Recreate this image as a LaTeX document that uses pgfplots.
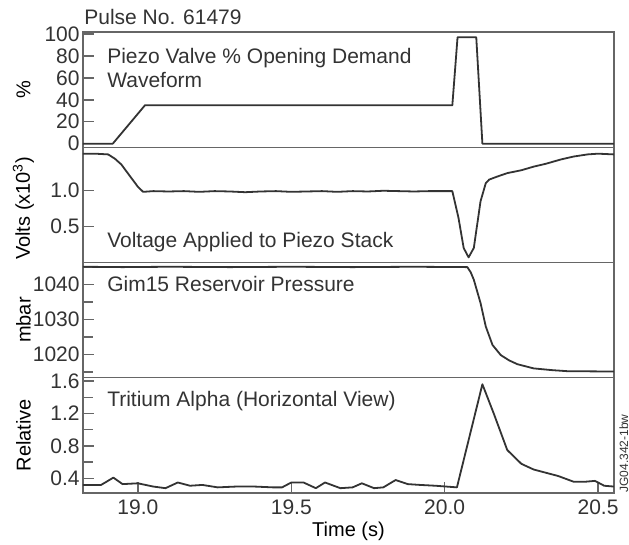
\documentclass[border=0pt]{standalone}
\usepackage{fontspec}
\setmainfont{Liberation Sans}
\usepackage{pgfplots}
\pgfplotsset{compat=1.18}

\definecolor{ink}{HTML}{333333}
\definecolor{frame}{HTML}{666666}

\pgfplotsset{
  panel/.style={
    scale only axis, width=265.5pt, height=57.6pt,
    xmin=18.821, xmax=20.552,
    axis line style={frame, line width=0.7pt},
    tick style={frame, line width=0.7pt},
    major tick length=5.5pt, minor tick length=5pt,
    tick align=inside,
    ytick pos=left, xtick pos=bottom,
    tick label style={font=\fontsize{10.5}{12}\selectfont, text=ink},
    /pgf/number format/assume math mode=true,
    /pgf/number format/1000 sep={},
    label style={font=\fontsize{10.5}{12}\selectfont, text=ink},
    every axis y label/.style={at={(axis description cs:-0.112,0.5)}, rotate=90, anchor=center},
    yticklabel style={inner sep=1.5pt},
    xtick=\empty,
  },
  curve/.style={ink, line width=0.9pt, mark=none, line join=round},
}
\tikzset{tag/.style={anchor=base west, inner sep=0pt, font=\fontsize{10.5}{12}\selectfont, text=ink}}

\begin{document}
\begin{tikzpicture}

% Tritium alpha
\begin{axis}[panel, name=p4, at={(0,0)}, anchor=south west,
  ymin=0.223, ymax=1.642,
  ytick={0.4,0.8,1.2,1.6}, minor ytick={0.6,1.0,1.4},
  yticklabel style={/pgf/number format/.cd, fixed, fixed zerofill, precision=1},
  xtick={19.0,19.5,20.0,20.5},
  xticklabel style={/pgf/number format/.cd, fixed, fixed zerofill, precision=1},
  ylabel={Relative}, xlabel={Time (s)},
  every axis x label/.style={at={(axis description cs:0.5,0)}, anchor=base, yshift=-22pt}]
\addplot[curve] coordinates {
 (18.821,0.32) (18.88,0.32) (18.92,0.41) (18.95,0.33) (19.00,0.34) (19.05,0.30)
 (19.09,0.28) (19.13,0.35) (19.17,0.31) (19.21,0.32) (19.26,0.29) (19.32,0.30)
 (19.38,0.30) (19.44,0.29) (19.47,0.29) (19.50,0.35) (19.54,0.35) (19.58,0.28)
 (19.61,0.35) (19.66,0.28) (19.70,0.29) (19.73,0.34) (19.77,0.28) (19.80,0.29)
 (19.84,0.38) (19.88,0.33) (19.92,0.32) (19.97,0.31) (20.04,0.29) (20.123,1.56)
 (20.16,1.20) (20.204,0.75) (20.25,0.58) (20.29,0.51) (20.33,0.47) (20.37,0.43)
 (20.42,0.36) (20.46,0.36) (20.49,0.37) (20.52,0.31) (20.552,0.30)
};
\node[tag] at (axis description cs:0.045,0.745) {Tritium Alpha (Horizontal View)};
\end{axis}

% reservoir pressure
\begin{axis}[panel, name=p3, at={(p4.north west)}, anchor=south west,
  ymin=1013.36, ymax=1046.35,
  ytick={1020,1030,1040}, minor ytick={1015,1025,1035,1045},
  ylabel={mbar}]
\addplot[curve] coordinates {
 (18.821,1045.1) (18.95,1045.0) (19.10,1045.1) (19.30,1045.0) (19.50,1045.1)
 (19.70,1045.0) (19.90,1045.1) (20.074,1045.0) (20.085,1043.5) (20.095,1041.4)
 (20.117,1034.7) (20.134,1028.0) (20.156,1022.7) (20.183,1019.8) (20.21,1018.3)
 (20.237,1017.2) (20.29,1016.0) (20.35,1015.5) (20.40,1015.2) (20.552,1015.1)
};
\node[tag] at (axis description cs:0.045,0.746) {Gim15 Reservoir Pressure};
\end{axis}

% voltage
\begin{axis}[panel, name=p2, at={(p3.north west)}, anchor=south west,
  ymin=0, ymax=1.6,
  ytick={0.5,1.0},
  yticklabel style={/pgf/number format/.cd, fixed, fixed zerofill, precision=1},
  ylabel={Volts (x10\textsuperscript{3})},
  every axis y label/.append style={at={(axis description cs:-0.112,0.47)}}]
\addplot[curve] coordinates {
 (18.821,1.51) (18.86,1.51) (18.903,1.50) (18.925,1.44) (18.946,1.36) (18.979,1.17)
 (19.00,1.05) (19.017,0.98) (19.05,0.99) (19.10,0.985) (19.15,0.99) (19.20,0.98)
 (19.25,0.99) (19.30,0.985) (19.35,0.975) (19.40,0.985) (19.45,0.99) (19.50,0.98)
 (19.55,0.985) (19.60,0.99) (19.65,0.98) (19.70,0.99) (19.75,0.985) (19.80,0.995)
 (19.85,0.99) (19.90,0.985) (19.95,0.99) (20.00,0.99) (20.025,0.99) (20.045,0.62)
 (20.062,0.20) (20.078,0.07) (20.095,0.20) (20.117,0.85) (20.134,1.10) (20.145,1.15)
 (20.17,1.19) (20.204,1.24) (20.25,1.28) (20.29,1.33) (20.33,1.37) (20.379,1.43)
 (20.42,1.47) (20.466,1.50) (20.50,1.51) (20.552,1.50)
};
\node[tag] at (axis description cs:0.045,0.128) {Voltage Applied to Piezo Stack};
\end{axis}

% valve demand
\begin{axis}[panel, name=p1, at={(p2.north west)}, anchor=south west,
  ymin=-3.2, ymax=101.8,
  ytick={0,20,40,60,80,100},
  ylabel={\%}]
\addplot[curve] coordinates {
 (18.821,0) (18.918,0) (19.023,35) (20.025,35) (20.042,97) (20.103,97) (20.123,0) (20.552,0)
};
\node[tag] at (axis description cs:0.045,0.728) {Piezo Valve \% Opening Demand};
\node[tag] at (axis description cs:0.045,0.518) {Waveform};
\end{axis}

\node[tag] at ([xshift=0.5pt, yshift=4pt]p1.north west) {Pulse No. 61479};
\node[rotate=90, anchor=north west, inner sep=0pt, font=\fontsize{6}{7}\selectfont, text=ink]
  at ([xshift=2.5pt]p4.south east) {JG04.342-1bw};

\pgfresetboundingbox
\path[use as bounding box] ([shift={(-41.5pt,-25.65pt)}]p4.south west) rectangle ([shift={(7.5pt,16pt)}]p1.north east);
\end{tikzpicture}
\end{document}
